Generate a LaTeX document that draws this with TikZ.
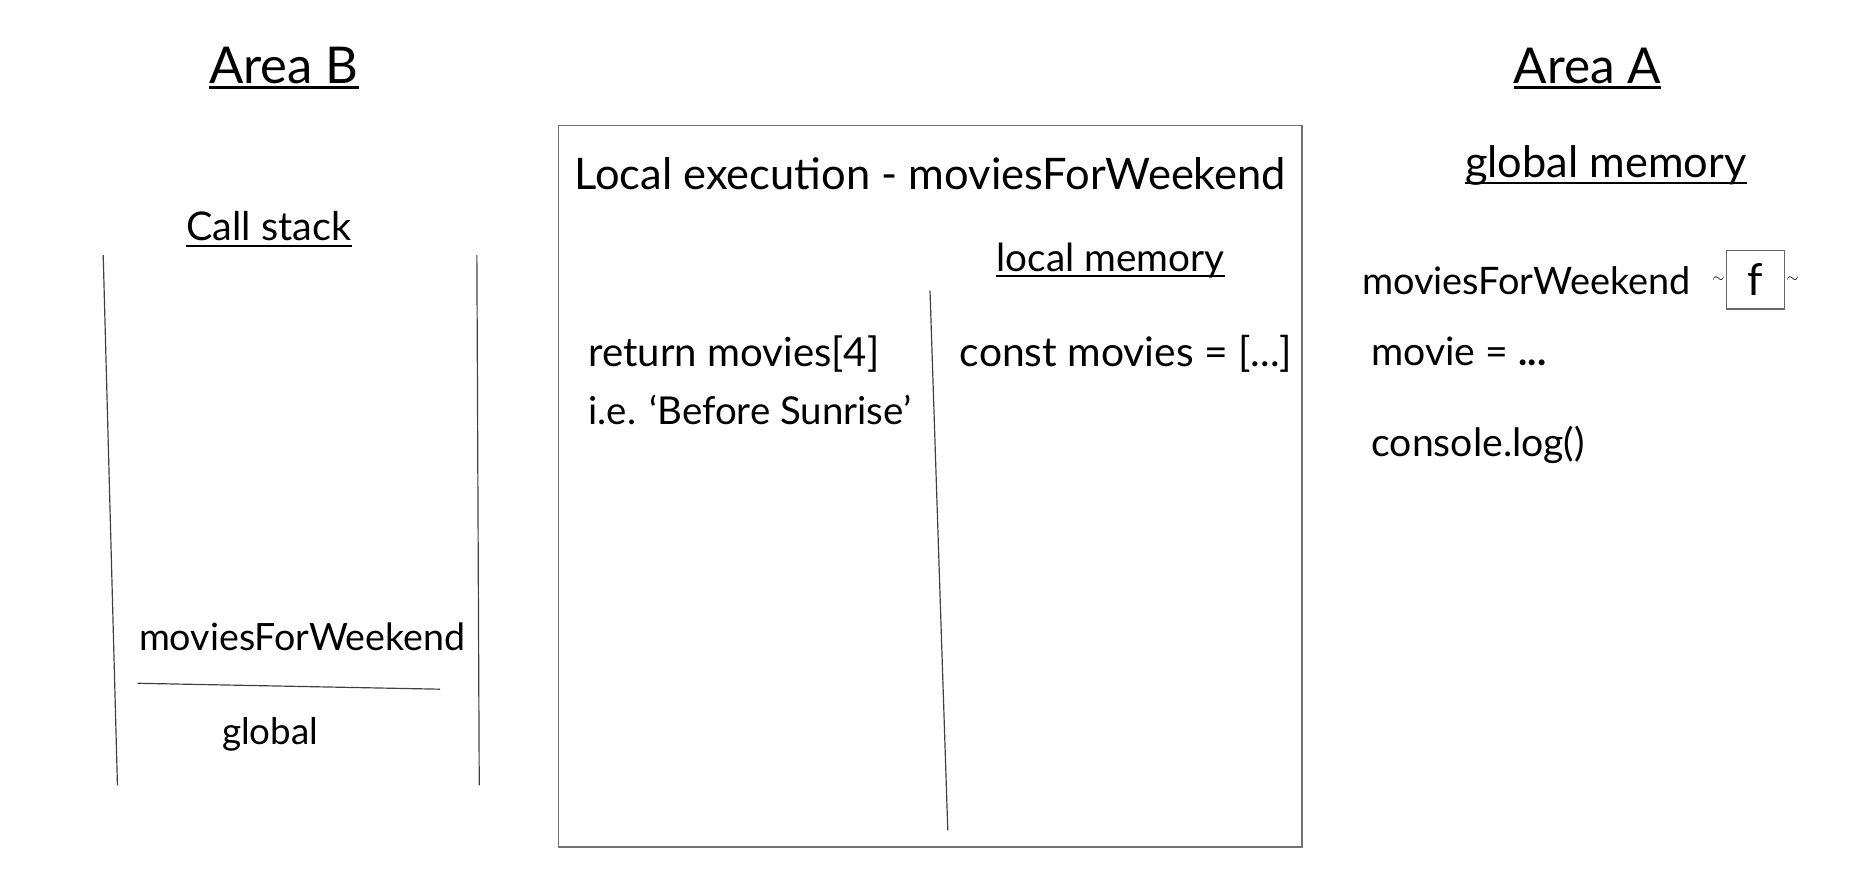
\documentclass[tikz,border=0pt]{standalone}
\usepackage{fontspec}
\setmainfont{Lato}
\usepackage{graphicx}
\newcommand{\fitt}[2]{\resizebox{#1pt}{!}{#2}}
\begin{document}
\begin{tikzpicture}[x=1pt,y=-1pt,
  txt/.style={inner sep=0pt, anchor=base west},
  ul/.style={line width=2.2pt, black},
  thin/.style={line width=1pt, black!75},
  frame/.style={draw=black!55, line width=1.6pt}]
\useasboundingbox (0,0) rectangle (1568,736);
% headings
\node[txt] (areaB) at (176,70) {\fitt{126}{Area B}};
\draw[ul] ([yshift=-4pt]areaB.base west) -- ([yshift=-4pt]areaB.base east);
\node[txt] (areaA) at (1276,70) {\fitt{124}{Area A}};
\draw[ul] ([yshift=-4pt]areaA.base west) -- ([yshift=-4pt]areaA.base east);
% call stack
\node[txt] (cs) at (157,203) {\fitt{139}{Call stack}};
\draw[line width=1.6pt] ([yshift=-4pt]cs.base west) -- ([yshift=-4pt]cs.base east);
\coordinate (csl1) at (87,215); \coordinate (csl2) at (99,662);
\coordinate (csr1) at (402,215); \coordinate (csr2) at (404,662);
\draw[thin] (csl1) -- (csl2);
\draw[thin] (csr1) -- (csr2);
\node[txt] (mfw) at (117,548) {\fitt{275}{moviesForWeekend}};
\coordinate (sep1) at (116,576); \coordinate (sep2) at (371,581);
\draw[thin] (sep1) -- (sep2);
\node[txt] (glob) at (187,628) {\fitt{81}{global}};
% local execution box
\node[frame, anchor=north west, minimum width=627pt, minimum height=608pt, inner sep=0pt] (box) at (470,105) {};
\node[txt] (lexec) at (484,160) {\fitt{600}{Local execution - moviesForWeekend}};
\node[txt] (lmem) at (840,229) {\fitt{192}{local memory}};
\draw[line width=1.6pt] ([yshift=-4pt]lmem.base west) -- ([yshift=-4pt]lmem.base east);
\coordinate (div1) at (784,245); \coordinate (div2) at (799,700);
\draw[thin] (div1) -- (div2);
\node[txt] (ret) at (496,309) {\fitt{245}{return movies[4]}};
\node[txt] (ie) at (496,358) {\fitt{272}{i.e. ‘Before Sunrise’}};
\node[txt] (cm) at (809,309) {\fitt{280}{const movies = [...]}};
% area A
\node[txt] (gmem) at (1235,150) {\fitt{237}{global memory}};
\draw[line width=1.8pt] ([yshift=-4pt]gmem.base west) -- ([yshift=-4pt]gmem.base east);
\node[txt] (gmfw) at (1148,248) {\fitt{277}{moviesForWeekend}};
\node[draw=black!60, line width=1pt, anchor=north west, minimum width=49pt, minimum height=49pt, inner sep=0pt] (fbox) at (1455,211) {\fitt{13}{f}};
\node[anchor=east, inner sep=1pt] (t1) at (fbox.west) {\fitt{10}{$\sim$}};
\node[anchor=west, inner sep=1pt] (t2) at (fbox.east) {\fitt{10}{$\sim$}};
\node[txt, font=\fontsize{33}{40}\selectfont] (movie) at (1156,308) {movie = \textbf{...}};
\node[txt, font=\fontsize{33}{40}\selectfont] (clog) at (1156,385) {console.log()};
\end{tikzpicture}
\end{document}
